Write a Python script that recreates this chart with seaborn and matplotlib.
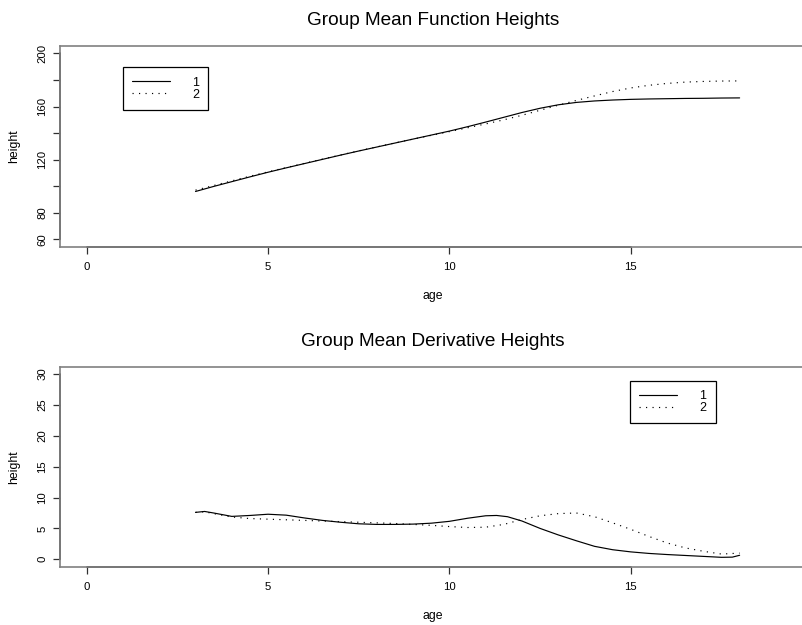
import matplotlib
matplotlib.use('Agg')
import matplotlib.pyplot as plt
import matplotlib.transforms as mtrans
import pandas as pd
import seaborn as sns

# mean height curves (cm), ages 3..18 by 0.5
ages = [3, 3.5, 4, 4.5, 5, 5.5, 6, 6.5, 7, 7.5, 8, 8.5, 9, 9.5, 10, 10.5,
        11, 11.5, 12, 12.5, 13, 13.5, 14, 14.5, 15, 15.5, 16, 16.5, 17, 17.5, 18]
height_1 = [96, 99.8, 103.4, 107, 110.5, 113.8, 117, 120.2, 123.4, 126.5, 129.5, 132.5,
            135.5, 138.5, 141.5, 144.8, 148.3, 151.9, 155.5, 158.7, 161.3, 163.1, 164.2,
            164.9, 165.4, 165.7, 165.9, 166.1, 166.2, 166.4, 166.5]
height_2 = [97, 100.5, 104, 107.5, 110.8, 114, 117.2, 120.4, 123.5, 126.6, 129.6, 132.6,
            135.5, 138.3, 141.1, 144, 146.9, 150, 153.4, 157.2, 161, 164.6, 168, 171.3,
            174, 176, 177.4, 178.4, 178.9, 179.2, 179.3]

# derivative curves (velocity)
ages_d1 = [3, 3.25, 3.5, 4, 4.5, 5, 5.5, 6, 6.5, 7, 7.5, 8, 8.5, 9, 9.5, 10, 10.5, 11,
           11.3, 11.6, 12, 12.5, 13, 13.5, 14, 14.5, 15, 15.5, 16, 16.5, 17, 17.5, 17.8, 18]
deriv_1 = [7.6, 7.75, 7.5, 6.95, 7.1, 7.3, 7.15, 6.7, 6.3, 6.0, 5.75, 5.65, 5.65, 5.7,
           5.85, 6.15, 6.65, 7.05, 7.1, 6.9, 6.2, 5.0, 3.95, 3.0, 2.1, 1.55, 1.2, 0.95,
           0.77, 0.62, 0.47, 0.32, 0.35, 0.65]
ages_d2 = [3, 3.25, 3.5, 4, 4.5, 5, 5.5, 6, 6.5, 7, 7.5, 8, 8.5, 9, 9.5, 10, 10.5, 11,
           11.5, 12, 12.5, 13, 13.5, 14, 14.5, 15, 15.5, 16, 16.5, 17, 17.5, 18]
deriv_2 = [7.6, 7.7, 7.4, 6.85, 6.6, 6.5, 6.4, 6.3, 6.2, 6.1, 6.0, 5.9, 5.8, 5.65, 5.5,
           5.3, 5.15, 5.2, 5.65, 6.45, 7.05, 7.4, 7.5, 6.9, 5.9, 4.85, 3.7, 2.65, 1.85,
           1.3, 0.85, 1.0]

x_ticks = [0, 5, 10, 15]
y_ticks_top = [60, 80, 100, 120, 140, 160, 180, 200]
y_labels_top = ['60', '80', '', '120', '', '160', '', '200']
y_ticks_bot = [0, 5, 10, 15, 20, 25, 30]

fun_df = pd.concat([
    pd.DataFrame({'age': ages, 'height': height_1, 'group': '1'}),
    pd.DataFrame({'age': ages, 'height': height_2, 'group': '2'}),
])
der_df = pd.concat([
    pd.DataFrame({'age': ages_d1, 'height': deriv_1, 'group': '1'}),
    pd.DataFrame({'age': ages_d2, 'height': deriv_2, 'group': '2'}),
])

sns.set_style("ticks")
plt.rcParams['font.family'] = ['Liberation Sans', 'DejaVu Sans']
plt.rcParams['text.color'] = 'black'
plt.rcParams['axes.labelcolor'] = 'black'
plt.rcParams['xtick.color'] = 'black'
plt.rcParams['ytick.color'] = 'black'

fig = plt.figure(figsize=(8.03, 6.25), dpi=100)
W, H = 803, 625
ax1 = fig.add_axes([60 / W, 1 - 246.7 / H, 746 / W, 200.7 / H])
ax2 = fig.add_axes([60 / W, 1 - 566.7 / H, 746 / W, 200 / H])

pal = {'1': 'black', '2': 'black'}
dash = {'1': '', '2': (1, 4.5)}


def style_panel(ax, df, title, yticks, ylabels, ylim, yspan, leg_xy):
    sns.lineplot(data=df, x='age', y='height', hue='group', style='group',
                 palette=pal, dashes=dash, lw=0.85, ax=ax, estimator=None, sort=False)
    ax.set_xlim(-0.736, 19.83)
    ax.set_ylim(*ylim)
    ax.set_xticks(x_ticks)
    ax.set_yticks(yticks)
    ax.set_yticklabels(ylabels)
    for lab in ax.get_yticklabels():
        lab.set_rotation(90)
        lab.set_va('center')
    ax.tick_params(axis='both', direction='out', length=5, width=0.9,
                   color='#303030', labelcolor='black', labelsize=8.2, pad=4)
    ax.tick_params(axis='x', pad=6)
    for sp in ax.spines.values():
        sp.set_visible(True)
        sp.set_color('#808080')
        sp.set_linewidth(1.2)
    ax.spines['right'].set_visible(False)
    # dark axis lines only from first to last tick, like R
    tb = mtrans.blended_transform_factory(ax.transData, ax.transAxes)
    ax.plot([x_ticks[0], x_ticks[-1]], [0, 0], color='#303030', lw=1.2,
            transform=tb, clip_on=False)
    tl = mtrans.blended_transform_factory(ax.transAxes, ax.transData)
    ax.plot([0, 0], yspan, color='#303030', lw=1.2, transform=tl, clip_on=False)
    ax.set_title(title, fontsize=13.7, pad=15, color='black')
    ax.set_xlabel('age', fontsize=8.8)
    ax.set_ylabel('height', fontsize=8.8)
    ax.xaxis.set_label_coords(0.5, -0.216)
    ax.yaxis.label.set_va('center')
    ax.yaxis.set_label_coords(-0.062, 0.5)
    handles, labels = ax.get_legend_handles_labels()
    leg = ax.legend(handles, labels, loc='upper left', bbox_to_anchor=leg_xy,
                    borderaxespad=0, fancybox=False, fontsize=9,
                    handlelength=3.0, handletextpad=1.8, labelspacing=0.0,
                    borderpad=0.75, framealpha=1)
    leg.get_frame().set_edgecolor('black')
    leg.get_frame().set_linewidth(0.9)
    for txt in leg.get_texts():
        txt.set_color('black')


style_panel(ax1, fun_df, 'Group Mean Function Heights', y_ticks_top, y_labels_top,
            (54.4, 205.6), [60, 200], (0.084, 0.894))
style_panel(ax2, der_df, 'Group Mean Derivative Heights', y_ticks_bot,
            [str(t) for t in y_ticks_bot], (-1.2, 31.2), [0, 30], (0.764, 0.93))

fig.savefig('out.png', dpi=100)
